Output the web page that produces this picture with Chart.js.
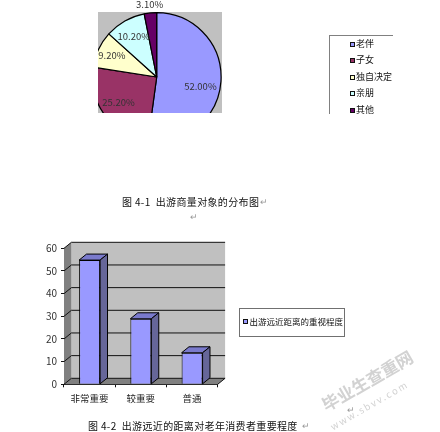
<!DOCTYPE html>
<html>
<head>
<meta charset="utf-8">
<script src="https://cdn.jsdelivr.net/npm/chart.js@4/dist/chart.umd.min.js"></script>
<style>
  html, body { margin: 0; padding: 0; background: #fff; }
  body { position: relative; width: 440px; height: 432px; overflow: hidden; font-family: "Noto Sans CJK SC", sans-serif; color: #111; }
  canvas { position: absolute; }
  .txt { position: absolute; white-space: pre; line-height: 12px; }
  .cap { font-size: 10px; letter-spacing: 0.35px; }
  .ret { color: #999; font-size: 9px; }
  #pieLegend { position: absolute; left: 329px; top: 35px; width: 63px; height: 78px; border-left: 1px solid #808080; border-top: 1px solid #808080; }
  #barLegend { position: absolute; left: 239px; top: 308px; width: 104px; height: 27px; border: 1px solid #707070; }
  .sw { position: absolute; width: 3px; height: 3px; border: 1px solid #111; }
  .lb { position: absolute; font-size: 9px; line-height: 12px; white-space: pre; }
  .wm { position: absolute; color: #d2d2d2; white-space: pre; transform: rotate(-30deg); transform-origin: left center; }
</style>
</head>
<body>
<canvas id="pieChart" width="440" height="200" style="left:0;top:0"></canvas>
<canvas id="barChart" width="300" height="190" style="left:0;top:230px"></canvas>
<div id="pieLegend"></div>
<div id="barLegend"></div>

<div class="txt cap" style="left:122px;top:196px">图 4-1  出游商量对象的分布图</div>
<div class="txt ret" style="left:260px;top:196px">↵</div>
<div class="txt ret" style="left:190px;top:211px">↵</div>
<div class="txt cap" style="left:88px;top:420px">图 4-2  出游远近的距离对老年消费者重要程度</div>
<div class="txt ret" style="left:302px;top:420px">↵</div>
<div class="txt ret" style="left:347px;top:404px">↵</div>
<div class="wm" style="left:323px;top:395px;font-size:17px;line-height:22px;font-weight:700">毕业生查重网</div>
<div class="wm" style="left:331px;top:421px;font-size:9.5px;line-height:12px;letter-spacing:1.8px">www.sbvv.com</div>

<script>
var pieLabels = ["老伴", "子女", "独自决定", "亲朋", "其他"];
var pieValues = [52.0, 25.2, 9.2, 10.2, 3.1];
var pieText = ["52.00%", "25.20%", "9.20%", "10.20%", "3.10%"];
var pieColors = ["#9999FF", "#993366", "#FFFFCC", "#CCFFFF", "#660066"];
var labelDist = [0.68, 0.74, 0.77, 0.72, 1.13];
var labelShiftY = [6, -3, 0, 0, 0];

var barLabels = ["非常重要", "较重要", "普通"];
var barValues = [54.8, 28.9, 13.9];
var barSeries = "出游远近距离的重视程度";

var FONT = '"Noto Sans CJK SC", sans-serif';

// grey plot box behind the pie, pie gets clipped to it like in the document
var pieBox = {
  id: "pieBox",
  beforeDatasetsDraw: function (chart) {
    var c = chart.ctx;
    c.fillStyle = "#C0C0C0";
    c.fillRect(98, 12, 124, 101);
    c.save();
    c.beginPath();
    c.rect(98, 12, 124, 101);
    c.clip();
  },
  afterDatasetsDraw: function (chart) {
    var c = chart.ctx;
    c.restore();
    c.font = "9.5px " + FONT;
    c.fillStyle = "#333";
    c.textAlign = "center";
    c.textBaseline = "middle";
    chart.getDatasetMeta(0).data.forEach(function (arc, i) {
      var mid = (arc.startAngle + arc.endAngle) / 2;
      var r = arc.outerRadius * labelDist[i];
      var x = arc.x + Math.cos(mid) * r;
      var y = arc.y + Math.sin(mid) * r + labelShiftY[i];
      if (i === 2) x = Math.max(x, 111);
      c.fillText(pieText[i], x, y);
    });
  },
};

new Chart(document.getElementById("pieChart"), {
  type: "pie",
  data: {
    labels: pieLabels,
    datasets: [
      {
        data: pieValues,
        backgroundColor: pieColors,
        borderColor: "#000",
        borderWidth: 1.2,
      },
    ],
  },
  options: {
    responsive: false,
    animation: false,
    layout: { padding: { left: 91.7, right: 218.3, top: 12, bottom: 58 } },
    plugins: { legend: { display: false }, tooltip: { enabled: false } },
  },
  plugins: [pieBox],
});

var DX = 7.4;
var DY = -6;

// fake 3D: walls and floor behind the bars, top and side faces on them
var box3d = {
  id: "box3d",
  beforeDatasetsDraw: function (chart) {
    var c = chart.ctx;
    var a = chart.chartArea;
    var y = chart.scales.y;

    function poly(pts, fill) {
      c.beginPath();
      pts.forEach(function (p, i) {
        if (i === 0) c.moveTo(p[0], p[1]);
        else c.lineTo(p[0], p[1]);
      });
      c.closePath();
      c.fillStyle = fill;
      c.fill();
    }

    poly([[a.left + DX, a.top + DY], [a.right + DX, a.top + DY], [a.right + DX, a.bottom + DY], [a.left + DX, a.bottom + DY]], "#C0C0C0");
    poly([[a.left, a.top], [a.left + DX, a.top + DY], [a.left + DX, a.bottom + DY], [a.left, a.bottom]], "#808080");
    poly([[a.left, a.bottom], [a.left + DX, a.bottom + DY], [a.right + DX, a.bottom + DY], [a.right, a.bottom]], "#808080");

    c.strokeStyle = "#111";
    c.lineWidth = 1;
    y.ticks.forEach(function (t) {
      var py = y.getPixelForValue(t.value);
      c.beginPath();
      c.moveTo(a.left, py);
      c.lineTo(a.left + DX, py + DY);
      c.lineTo(a.right + DX, py + DY);
      c.stroke();
    });
    c.beginPath();
    c.moveTo(a.right, a.bottom);
    c.lineTo(a.right + DX, a.bottom + DY);
    c.stroke();
  },
  afterDatasetsDraw: function (chart) {
    var c = chart.ctx;
    c.strokeStyle = "#000";
    c.lineWidth = 1;
    chart.getDatasetMeta(0).data.forEach(function (b) {
      var l = b.x - b.width / 2;
      var r = b.x + b.width / 2;

      c.beginPath();
      c.moveTo(l, b.y);
      c.lineTo(l + DX, b.y + DY);
      c.lineTo(r + DX, b.y + DY);
      c.lineTo(r, b.y);
      c.closePath();
      c.fillStyle = "#7A7ACC";
      c.fill();
      c.stroke();

      c.beginPath();
      c.moveTo(r, b.y);
      c.lineTo(r + DX, b.y + DY);
      c.lineTo(r + DX, b.base + DY);
      c.lineTo(r, b.base);
      c.closePath();
      c.fillStyle = "#666699";
      c.fill();
      c.stroke();
    });
  },
};

new Chart(document.getElementById("barChart"), {
  type: "bar",
  data: {
    labels: barLabels,
    datasets: [
      {
        label: barSeries,
        data: barValues,
        backgroundColor: "#9999FF",
        borderColor: "#000",
        borderWidth: 1,
        categoryPercentage: 1,
        barPercentage: 0.41,
      },
    ],
  },
  options: {
    responsive: false,
    animation: false,
    layout: { padding: { left: 0, right: 82.3, top: 18.3, bottom: 0 } },
    plugins: { legend: { display: false }, tooltip: { enabled: false } },
    scales: {
      x: {
        afterFit: function (s) { s.height = 35.7; },
        grid: { drawOnChartArea: false, color: "#111", tickLength: 3 },
        border: { color: "#111" },
        ticks: { color: "#222", font: { size: 9.5, family: FONT }, padding: 5, maxRotation: 0 },
      },
      y: {
        min: 0,
        max: 60,
        afterFit: function (s) { s.width = 64; },
        grid: { drawOnChartArea: false, color: "#111", tickLength: 3 },
        border: { color: "#111" },
        ticks: { stepSize: 10, color: "#333", font: { size: 10, family: FONT }, padding: 4 },
      },
    },
  },
  plugins: [box3d],
});

// legends are plain text boxes like the ones pasted in the document
var pieLegend = document.getElementById("pieLegend");
pieLabels.forEach(function (name, i) {
  var top = 2 + i * 16.4;
  var sw = document.createElement("div");
  sw.className = "sw";
  sw.style.cssText = "left:20px;top:" + (top + 4) + "px;background:" + pieColors[i];
  var lb = document.createElement("div");
  lb.className = "lb";
  lb.style.cssText = "left:26px;top:" + top + "px";
  lb.textContent = name;
  pieLegend.appendChild(sw);
  pieLegend.appendChild(lb);
});

var barLegend = document.getElementById("barLegend");
var sw = document.createElement("div");
sw.className = "sw";
sw.style.cssText = "left:3px;top:10px;background:#9999FF";
var lb = document.createElement("div");
lb.className = "lb";
lb.style.cssText = "left:9.5px;top:6px;font-size:8.5px";
lb.textContent = barSeries;
barLegend.appendChild(sw);
barLegend.appendChild(lb);
</script>
</body>
</html>
